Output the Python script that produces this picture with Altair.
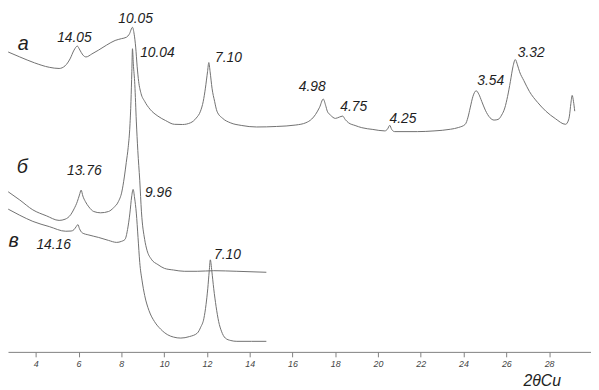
import altair as alt
import pandas as pd

# 2θ (deg, Cu) and relative intensity (a.u.)
tt_a = [2.71, 3.25, 3.94, 4.63, 5.09, 5.37, 5.60, 5.79, 5.94, 6.06, 6.20, 6.35, 6.62, 6.94, 7.31, 7.71,
        8.00, 8.24, 8.37, 8.52, 8.60, 8.67, 8.74, 8.81, 8.92, 9.09, 9.34, 9.71, 10.07, 10.48, 10.86,
        11.24, 11.50, 11.70, 11.83, 11.93, 12.03, 12.09, 12.15, 12.24, 12.36, 12.47, 12.75, 13.09,
        13.63, 14.32, 15.25, 16.16, 16.63, 16.90, 17.08, 17.27, 17.44, 17.55, 17.63, 17.78, 18.01,
        18.19, 18.35, 18.47, 18.62, 18.93, 19.24, 19.76, 20.32, 20.45, 20.55, 20.64, 20.78, 21.85,
        22.62, 23.39, 23.77, 24.08, 24.21, 24.31, 24.44, 24.59, 24.72, 24.85, 25.02, 25.24, 25.43,
        25.62, 25.78, 25.93, 26.06, 26.19, 26.31, 26.42, 26.52, 26.62, 26.82, 27.08, 27.46, 27.85,
        28.29, 28.77, 28.87, 28.95, 29.02, 29.08, 29.14, 29.20]
int_a = [304, 299, 293, 288.5, 287.3, 290, 297, 306, 310, 306, 301, 299, 302, 306, 311, 315.7,
         317.5, 319, 322, 329, 322, 309, 289, 274, 262, 254, 246, 239, 234.5, 230.7, 230.5,
         232.3, 237, 244, 254, 267.3, 284, 293.3, 284, 267.3, 254, 244, 236.5, 232.3,
         229.5, 228, 228.5, 230, 232.3, 236, 240.7, 248, 256.3, 250, 244, 240, 236.7,
         238, 239, 235.5, 232.3, 229.5, 227.3, 225.5, 224, 226, 229.7, 225.5, 223.3, 223.3,
         224, 225.7, 227.5, 230.7, 238, 247.3, 259, 264.7, 261, 254, 245, 237.3, 235,
         235.7, 240, 247.3, 259, 274, 289, 296.3, 291, 284, 275, 264, 253, 244,
         236.5, 230.7, 233, 239, 252, 260, 254, 244]

tt_b = [2.71, 3.25, 3.86, 4.49, 5.09, 5.37, 5.63, 5.79, 5.94, 6.04, 6.12, 6.20, 6.32, 6.48, 6.71,
        7.03, 7.40, 7.63, 7.86, 8.02, 8.14, 8.23, 8.32, 8.40, 8.45, 8.49, 8.52, 8.56, 8.63, 8.70,
        8.77, 8.86, 8.94, 9.09, 9.20, 9.40, 9.71, 10.01, 10.44, 10.94, 11.55, 12.32, 13.40, 14.78]
int_b = [162.3, 154, 144, 138, 133.3, 134.5, 139, 145, 152.3, 159, 164, 158, 152.3, 147, 142.3,
         141, 142.3, 146, 152.3, 162, 177.3, 192, 207.3, 229, 254, 284, 307.3, 292, 271, 234,
         204, 174, 142, 114, 103, 94, 88.5, 84.7, 83, 81.7, 81.7, 82.3, 81.7, 80.7]

tt_c = [2.71, 3.25, 3.86, 4.63, 5.40, 5.65, 5.79, 5.89, 5.97, 6.04, 6.17, 6.48, 6.94, 7.40, 7.78,
        8.00, 8.17, 8.29, 8.40, 8.48, 8.55, 8.62, 8.70, 8.78, 8.86, 8.97, 9.09, 9.29, 9.55, 9.84,
        10.17, 10.44, 10.78, 11.18, 11.55, 11.71, 11.86, 11.96, 12.04, 12.11, 12.16, 12.23, 12.32,
        12.43, 12.55, 12.68, 12.86, 13.12, 13.40, 14.09, 14.78]
int_c = [144.7, 138.5, 132.3, 127, 122.3, 122.5, 124, 127, 129, 125, 120.7, 118.5, 116, 113, 111,
         112, 114, 124, 140.7, 157, 164.7, 156, 140.7, 116, 90.7, 72, 57.3, 42, 30.7, 23,
         17.3, 15, 14, 15.5, 19, 25, 34, 48, 64, 82, 93.3, 82, 64,
         46, 30.7, 21, 14, 11.5, 10.7, 10.7, 10.7]

# peak annotations (d-spacings, Å) and their anchor points
peak_text = ["14.05", "10.05", "10.04", "7.10", "4.98", "4.75", "4.25", "3.54", "3.32",
             "13.76", "9.96", "14.16", "7.10"]
peak_tt = [5.00, 7.86, 8.88, 12.38, 16.30, 18.24, 20.54, 24.64, 26.54,
           5.46, 9.11, 4.03, 12.33]
peak_int = [314, 333, 299, 294, 264, 244, 232, 271, 299,
            179, 157, 104, 94]

curve_names = ["а", "б", "в"]
curve_tt = [3.16, 3.11, 2.72]
curve_int = [306, 181, 106]

tick_values = [4, 6, 8, 10, 12, 14, 16, 18, 20, 22, 24, 26, 28, 30]

df = pd.concat([
    pd.DataFrame({"tt": tt_a, "I": int_a, "trace": "а"}),
    pd.DataFrame({"tt": tt_b, "I": int_b, "trace": "б"}),
    pd.DataFrame({"tt": tt_c, "I": int_c, "trace": "в"}),
], ignore_index=True)
df_peaks = pd.DataFrame({"tt": peak_tt, "I": peak_int, "label": peak_text})
df_names = pd.DataFrame({"tt": curve_tt, "I": curve_int, "label": curve_names})

xscale = alt.Scale(domain=[2.7, 29.96], nice=False, zero=False)
yscale = alt.Scale(domain=[0, 346], nice=False, zero=False)

lines = alt.Chart(df).mark_line(
    interpolate="monotone", strokeWidth=1, color="#707070"
).encode(
    x=alt.X("tt:Q", scale=xscale, axis=alt.Axis(
        values=tick_values, title="2θCu", grid=False,
        domainColor="#808080", tickColor="#808080", tickSize=5, domainWidth=1,
        labelFont="Liberation Sans", labelFontStyle="italic", labelFontSize=9,
        labelColor="#444444", labelPadding=3,
        titleFont="Liberation Sans", titleFontStyle="italic", titleFontWeight="normal",
        titleFontSize=16, titleColor="#222222", titleX=541, titleY=34,
        titleAlign="center", titleBaseline="alphabetic")),
    y=alt.Y("I:Q", scale=yscale, axis=None),
    detail="trace:N",
)

peaks = alt.Chart(df_peaks).mark_text(
    align="left", baseline="alphabetic", font="Liberation Sans", fontStyle="italic",
    fontSize=14, color="#1e1e1e"
).encode(x=alt.X("tt:Q", scale=xscale), y=alt.Y("I:Q", scale=yscale), text="label:N")

names = alt.Chart(df_names).mark_text(
    align="left", baseline="alphabetic", font="Liberation Sans", fontStyle="italic",
    fontSize=20, color="#1e1e1e"
).encode(x=alt.X("tt:Q", scale=xscale), y=alt.Y("I:Q", scale=yscale), text="label:N")

chart = alt.layer(lines, peaks, names).properties(
    width=591, height=346,
    autosize=alt.AutoSizeParams(type="none"),
    padding={"left": 0, "top": 0, "right": 0, "bottom": 34},
    background="white",
).configure_view(strokeWidth=0)

chart.save("out.html", embed_options={"renderer": "svg", "actions": False})
